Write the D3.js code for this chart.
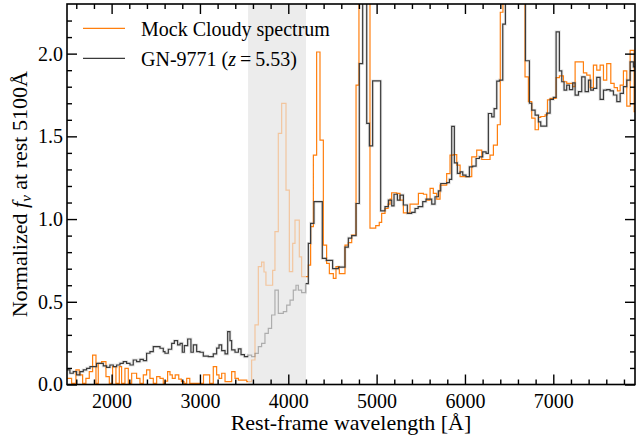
<!DOCTYPE html>
<html><head><meta charset="utf-8">
<script src="https://cdn.jsdelivr.net/npm/d3@7"></script>
<style>
body{margin:0;background:#fff}
svg{display:block}
text{font-family:"Liberation Serif","DejaVu Serif","Times New Roman",serif;fill:#000}
</style>
</head><body>
<svg id="chart" width="637" height="438"></svg>
<script>
// GN-9771 observed spectrum (bin left edges in Å, normalized f_nu)
const waveObs = [1495,1528,1566,1604,1642,1679,1717,1755,1830,1906,1943,1981,2019,2057,2095,2132,2170,2208,2245,2283,2321,2359,2396,2434,2472,2510,2548,2585,2604,2642,2680,2710,2747,2775,2800,2823,2861,2898,2925,2963,3000,3038,3095,3151,3189,3216,3246,3284,3314,3340,3359,3397,3435,3465,3503,3547,3585,3623,3661,3698,3736,3774,3811,3849,3887,3944,3982,4020,4057,4087,4114,4151,4195,4227,4253,4291,4385,4430,4502,4567,4642,4680,4718,4767,4804,4842,4888,4918,4955,5046,5095,5133,5171,5197,5235,5265,5303,5348,5397,5435,5470,5522,5559,5624,5661,5699,5726,5794,5824,5850,5880,5914,5945,5975,6012,6050,6088,6126,6163,6201,6239,6265,6303,6330,6360,6390,6428,6458,6685,6730,6756,6794,6832,6858,6926,6964,7001,7032,7069,7096,7122,7152,7183,7220,7247,7285,7322,7360,7398,7424,7454,7492,7530,7568,7605,7643,7681,7719,7757,7794,7832,7870,7907,7930];
const fluxObs = [0.088,0.068,0.078,0.058,0.078,0.088,0.098,0.108,0.128,0.112,0.104,0.118,0.108,0.118,0.128,0.138,0.128,0.118,0.148,0.138,0.152,0.144,0.189,0.199,0.229,0.229,0.219,0.199,0.189,0.213,0.249,0.265,0.239,0.249,0.195,0.235,0.275,0.195,0.239,0.199,0.195,0.172,0.168,0.185,0.22,0.239,0.205,0.185,0.32,0.265,0.209,0.195,0.215,0.18,0.168,0.178,0.168,0.188,0.229,0.249,0.309,0.339,0.42,0.571,0.43,0.44,0.48,0.51,0.571,0.60,0.571,0.555,0.61,0.853,0.974,1.105,0.762,0.75,0.70,0.71,0.83,0.885,0.90,1.094,1.94,3.0,1.578,1.443,1.835,1.05,1.075,1.115,1.08,1.15,1.115,1.145,1.085,1.034,1.04,1.064,1.075,1.105,1.12,1.09,1.135,1.17,1.215,1.22,1.24,1.56,1.34,1.276,1.285,1.266,1.257,1.316,1.32,1.366,1.376,1.406,1.397,1.638,1.618,1.668,1.834,1.84,2.178,3.0,1.957,1.70,1.658,1.628,1.588,1.562,1.64,1.723,1.735,2.132,1.896,1.83,1.78,1.81,1.783,1.823,1.749,1.77,1.86,1.77,1.84,1.78,1.79,1.856,1.723,1.78,1.783,1.775,1.75,1.71,1.76,1.80,1.84,1.95,1.92,1.92];

// Mock Cloudy spectrum
const waveMock = [1495,1547,1596,1634,1672,1709,1747,1785,1823,1849,1887,1936,1974,2011,2049,2087,2113,2151,2189,2227,2283,2321,2359,2396,2434,2472,2510,2548,2585,2604,2634,2661,2687,2720,2760,2790,2820,2850,2885,3040,3070,3110,3151,3189,3216,3246,3284,3359,3397,3435,3530,3585,3623,3661,3698,3725,3747,3823,3849,3887,3925,3974,4012,4050,4076,4125,4151,4227,4253,4284,4321,4359,4397,4434,4465,4510,4540,4578,4642,4680,4718,4767,4800,4925,4990,5030,5057,5095,5130,5152,5170,5227,5265,5303,5378,5473,5530,5567,5605,5642,5680,5718,5793,5831,5869,5907,5945,6077,6133,6190,6284,6322,6367,6400,6430,6680,6718,6756,6794,6832,6858,6907,6934,6964,7032,7069,7115,7152,7220,7247,7341,7379,7417,7454,7492,7530,7568,7605,7651,7689,7726,7757,7794,7832,7870,7915,7930];
const fluxMock = [0.037,0.007,0.088,0.058,0.007,0.037,0.078,0.178,0.007,0.128,0.138,0.048,0.007,0.108,0.007,0.108,0.007,0.098,0.007,0.068,0.037,0.007,0.058,0.088,0.037,0.007,0.048,0.037,0.007,0.02,0.078,0.058,0.037,0.058,0.032,0.017,0.007,0.037,0.007,0.058,0.058,0.007,0.108,0.058,0.037,0.068,0.017,0.078,0.037,0.027,0.017,0.148,0.36,0.712,0.74,0.68,0.60,0.69,0.924,1.518,1.699,1.175,0.682,0.853,0.994,0.772,0.652,0.722,0.954,1.387,2.01,1.477,0.843,0.732,0.67,0.641,0.712,0.67,0.843,0.857,0.903,1.81,3.0,0.945,0.96,0.98,1.034,1.064,1.09,1.12,1.159,1.155,1.115,1.038,1.09,1.155,1.15,1.115,1.185,1.155,1.12,1.205,1.275,1.386,1.39,1.326,1.256,1.376,1.417,1.36,1.386,1.447,1.57,2.25,3.0,1.86,1.71,1.61,1.54,1.615,1.62,1.63,1.72,1.73,1.855,1.865,1.83,1.82,1.80,1.95,1.884,1.87,1.795,1.93,1.90,1.93,1.84,1.94,1.82,1.795,1.775,1.81,1.896,1.683,2.02,1.65,1.65];

const xTickValues = [2000,3000,4000,5000,6000,7000];
const yTickValues = [0.0,0.5,1.0,1.5,2.0];
const shadedRange = [3545,4200];
const seriesLabels = ["Mock Cloudy spectrum","GN-9771"];

const FONT = '"Liberation Serif","DejaVu Serif","Times New Roman",serif';
const W = 637, H = 438;
const m = {left:67, right:2, top:4, bottom:53.5};
const svg = d3.select("#chart");
const x = d3.scaleLinear().domain([1495,7925]).range([m.left, W - m.right]);
const y = d3.scaleLinear().domain([0,2.3]).range([H - m.bottom, m.top]);

const defs = svg.append("defs");
defs.append("clipPath").attr("id","plot").append("rect")
  .attr("x",m.left).attr("y",m.top).attr("width",W-m.left-m.right).attr("height",H-m.top-m.bottom);
defs.append("clipPath").attr("id","inshade").append("rect")
  .attr("x",x(shadedRange[0])).attr("y",m.top).attr("width",x(shadedRange[1])-x(shadedRange[0])).attr("height",H-m.top-m.bottom);
const outClip = defs.append("clipPath").attr("id","outshade");
outClip.append("rect").attr("x",m.left).attr("y",m.top).attr("width",x(shadedRange[0])-m.left).attr("height",H-m.top-m.bottom);
outClip.append("rect").attr("x",x(shadedRange[1])).attr("y",m.top).attr("width",W-m.right-x(shadedRange[1])).attr("height",H-m.top-m.bottom);

// shaded band
svg.append("rect")
  .attr("x",x(shadedRange[0])).attr("y",m.top)
  .attr("width",x(shadedRange[1])-x(shadedRange[0])).attr("height",H-m.top-m.bottom)
  .attr("fill","#ececec");

const line = d3.line().x(d=>x(d[0])).y(d=>y(d[1])).curve(d3.curveStepAfter);
const mock = waveMock.map((w,i)=>[w,fluxMock[i]]);
const obs = waveObs.map((w,i)=>[w,fluxObs[i]]);

const gPlot = svg.append("g").attr("clip-path","url(#plot)");
function drawSeries(data, color, width){
  gPlot.append("g").attr("clip-path","url(#outshade)").append("path")
    .attr("d",line(data)).attr("fill","none").attr("stroke",color).attr("stroke-width",width);
  gPlot.append("g").attr("clip-path","url(#inshade)").append("path")
    .attr("d",line(data)).attr("fill","none").attr("stroke",color).attr("stroke-width",width).attr("stroke-opacity",0.35);
}
// faint uncertainty underlay for the observed spectrum
gPlot.append("g").attr("clip-path","url(#outshade)").append("path")
  .attr("d",line(obs)).attr("fill","none").attr("stroke","#e6e6e6").attr("stroke-width",3);
drawSeries(mock, "#ff7f0e", 1.2);
drawSeries(obs, "#3a3a3a", 1.2);

// axes
const xMinor = d3.range(1600,7925,200).filter(v=>v%1000!==0);
const yMinor = d3.range(0,23).map(v=>v/10).filter(v=>Math.abs(v*2-Math.round(v*2))>1e-6);
function styleAxis(g){
  g.select(".domain").remove();
  g.selectAll(".tick line").attr("stroke","#000").attr("stroke-width",1.4);
  g.selectAll("text").attr("font-family",FONT).style("font-family",FONT).style("font-size","20px").attr("fill","#000");
}
const bottomY = H - m.bottom, rightX = W - m.right;
svg.append("g").attr("transform",`translate(0,${bottomY})`)
  .call(d3.axisBottom(x).tickValues(xTickValues).tickSizeInner(-10).tickSizeOuter(0).tickPadding(9).tickFormat(d3.format("d"))).call(styleAxis);
svg.append("g").attr("transform",`translate(0,${bottomY})`)
  .call(d3.axisBottom(x).tickValues(xMinor).tickSizeInner(-5).tickSizeOuter(0).tickFormat("")).call(styleAxis);
svg.append("g").attr("transform",`translate(0,${m.top})`)
  .call(d3.axisTop(x).tickValues(xTickValues).tickSizeInner(-10).tickSizeOuter(0).tickFormat("")).call(styleAxis);
svg.append("g").attr("transform",`translate(0,${m.top})`)
  .call(d3.axisTop(x).tickValues(xMinor).tickSizeInner(-5).tickSizeOuter(0).tickFormat("")).call(styleAxis);
svg.append("g").attr("transform",`translate(${m.left},0)`)
  .call(d3.axisLeft(y).tickValues(yTickValues).tickSizeInner(-10).tickSizeOuter(0).tickPadding(4).tickFormat(d3.format(".1f"))).call(styleAxis);
svg.append("g").attr("transform",`translate(${m.left},0)`)
  .call(d3.axisLeft(y).tickValues(yMinor).tickSizeInner(-5).tickSizeOuter(0).tickFormat("")).call(styleAxis);
svg.append("g").attr("transform",`translate(${rightX},0)`)
  .call(d3.axisRight(y).tickValues(yTickValues).tickSizeInner(-10).tickSizeOuter(0).tickFormat("")).call(styleAxis);
svg.append("g").attr("transform",`translate(${rightX},0)`)
  .call(d3.axisRight(y).tickValues(yMinor).tickSizeInner(-5).tickSizeOuter(0).tickFormat("")).call(styleAxis);

// frame
svg.append("rect").attr("x",m.left).attr("y",m.top).attr("width",rightX-m.left).attr("height",bottomY-m.top)
  .attr("fill","none").attr("stroke","#000").attr("stroke-width",1.6);

// axis labels
svg.append("text").attr("x",(m.left+rightX)/2).attr("y",430).attr("text-anchor","middle")
  .attr("font-family",FONT).style("font-size","22px").text("Rest-frame wavelength [Å]");
const yl = svg.append("text").attr("transform",`translate(27,${(m.top+bottomY)/2}) rotate(-90)`)
  .attr("text-anchor","middle").attr("font-family",FONT).style("font-size","22px");
yl.append("tspan").text("Normalized ");
yl.append("tspan").style("font-style","italic").text("f");
yl.append("tspan").style("font-style","italic").style("font-size","15px").attr("dy",4).text("ν");
yl.append("tspan").attr("dy",-4).text(" at rest 5100Å");

// legend
const lg = svg.append("g");
lg.append("line").attr("x1",83).attr("x2",125).attr("y1",28.3).attr("y2",28.3).attr("stroke","#ff7f0e").attr("stroke-width",1.3);
lg.append("line").attr("x1",83).attr("x2",125).attr("y1",58.3).attr("y2",58.3).attr("stroke","#3a3a3a").attr("stroke-width",1.3);
lg.append("text").attr("x",141).attr("y",35.5).attr("font-family",FONT).style("font-size","20px").text(seriesLabels[0]);
const t2 = lg.append("text").attr("x",141).attr("y",65.5).attr("font-family",FONT).style("font-size","20px");
t2.append("tspan").text(seriesLabels[1] + " (");
t2.append("tspan").style("font-style","italic").text("z");
t2.append("tspan").text("\u2009=\u20095.53)");
</script>
</body></html>
